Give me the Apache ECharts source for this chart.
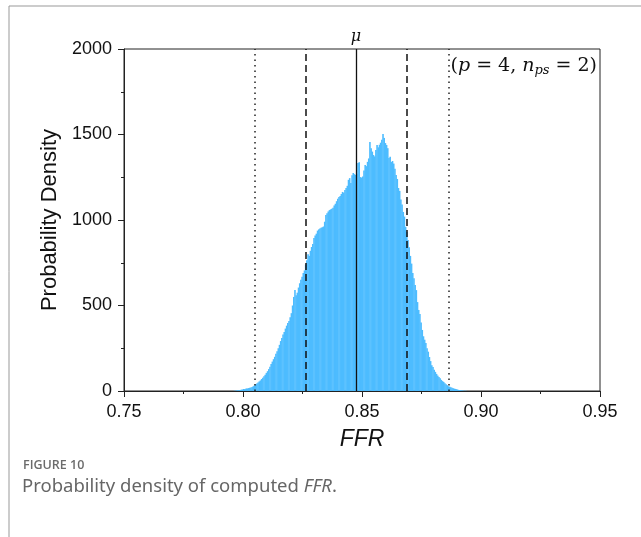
<!DOCTYPE html>
<html>
<head>
<meta charset="utf-8">
<script src="https://cdn.jsdelivr.net/npm/echarts@6/dist/echarts.min.js"></script>
<style>
  html, body { margin: 0; padding: 0; background: #fff; }
  #chart { width: 641px; height: 537px; }
</style>
</head>
<body>
<div id="chart"></div>
<script>
// histogram: bins of width 0.0005 starting at 0.796
const binStart = 0.796;
const binWidth = 0.0005;
const density = [
  1, 2, 3, 4, 5, 6, 8, 9, 11, 12,
  14, 15, 17, 19, 21, 24, 28, 33, 38, 44,
  50, 56, 62, 70, 78, 86, 95, 106, 116, 128,
  142, 158, 172, 186, 200, 218, 232, 250, 270, 292,
  310, 330, 345, 365, 382, 398, 410, 432, 455, 500,
  550, 590, 560, 575, 605, 630, 650, 668, 690, 705,
  740, 765, 800, 790, 820, 842, 860, 895, 910, 920,
  938, 945, 950, 955, 958, 962, 990, 1029, 1040, 1050,
  1058, 1062, 1066, 1072, 1085, 1095, 1110, 1125, 1135, 1140,
  1152, 1164, 1160, 1175, 1187, 1200, 1235, 1245, 1216, 1262,
  1275, 1268, 1263, 1270, 1333, 1338, 1251, 1248, 1255, 1290,
  1322, 1315, 1340, 1360, 1456, 1420, 1400, 1380, 1372, 1410,
  1439, 1425, 1440, 1452, 1470, 1503, 1480, 1450, 1439, 1420,
  1362, 1370, 1339, 1345, 1330, 1300, 1263, 1240, 1187, 1170,
  1120, 1090, 1047, 1020, 960, 930, 883, 840, 790, 745,
  690, 660, 620, 590, 520, 474, 450, 400, 357, 320,
  300, 280, 250, 230, 199, 175, 150, 140, 125, 112,
  100, 90, 82, 75, 65, 58, 53, 46, 40, 34,
  28, 25, 22, 19, 16, 14, 12, 10, 8, 6,
  5, 4, 3, 2, 2, 1
];

// vertical reference lines
const mu = 0.8475;
const innerLines = [0.8265, 0.869];
const outerLines = [0.805, 0.8865];

const xTicks = [0.75, 0.80, 0.85, 0.90, 0.95];
const yTicks = [0, 500, 1000, 1500, 2000];

const bins = density.map((d, i) => [binStart + i * binWidth, binStart + (i + 1) * binWidth, d]);

const chart = echarts.init(document.getElementById('chart'));

const dotted = { type: [1.5, 4], color: '#222', width: 1.5 };
const dashed = { type: [7, 4], color: '#111', width: 1.5 };

const option = {
  animation: false,
  grid: {
    left: 124,
    right: 41,
    top: 49,
    bottom: 146,
    show: true,
    borderColor: '#222',
    borderWidth: 1,
  },
  xAxis: {
    type: 'value',
    min: xTicks[0],
    max: xTicks[xTicks.length - 1],
    interval: 0.05,
    name: 'FFR',
    nameLocation: 'middle',
    nameGap: 37,
    nameTextStyle: { fontFamily: 'Liberation Sans', fontSize: 23, fontStyle: 'italic', color: '#111' },
    axisLine: { lineStyle: { color: '#222', width: 1 } },
    axisTick: { length: 6, lineStyle: { color: '#222' } },
    minorTick: { show: true, splitNumber: 2, length: 3, lineStyle: { color: '#222' } },
    splitLine: { show: false },
    axisLabel: {
      margin: 12,
      fontFamily: 'Liberation Sans',
      fontSize: 18,
      color: '#111',
      formatter: (v) => v.toFixed(2),
    },
  },
  yAxis: {
    type: 'value',
    min: yTicks[0],
    max: yTicks[yTicks.length - 1],
    interval: 500,
    name: 'Probability Density',
    nameLocation: 'middle',
    nameGap: 60,
    nameTextStyle: { fontFamily: 'Liberation Sans', fontSize: 22, color: '#111' },
    axisLine: { show: true, lineStyle: { color: '#222', width: 1 } },
    axisTick: { show: true, length: 6, lineStyle: { color: '#222' } },
    minorTick: { show: true, splitNumber: 2, length: 3, lineStyle: { color: '#222' } },
    splitLine: { show: false },
    axisLabel: {
      margin: 12,
      fontFamily: 'Liberation Sans',
      fontSize: 18,
      color: '#111',
      formatter: (v) => String(v),
    },
  },
  series: [
    {
      type: 'custom',
      data: bins,
      encode: { x: [0, 1], y: 2 },
      renderItem: (params, api) => {
        const p0 = api.coord([api.value(0), api.value(2)]);
        const p1 = api.coord([api.value(1), 0]);
        return {
          type: 'rect',
          shape: { x: p0[0], y: p0[1], width: p1[0] - p0[0] + 0.4, height: p1[1] - p0[1] },
          style: { fill: '#4DBCFF' },
        };
      },
      z: 2,
    },
    {
      type: 'line',
      data: [],
      z: 5,
      markLine: {
        silent: true,
        symbol: 'none',
        animation: false,
        precision: 4,
        label: { show: false },
        data: [
          { xAxis: outerLines[0], lineStyle: dotted },
          { xAxis: outerLines[1], lineStyle: dotted },
          { xAxis: innerLines[0], lineStyle: dashed },
          { xAxis: innerLines[1], lineStyle: dashed },
          {
            xAxis: mu,
            lineStyle: { type: 'solid', color: '#111', width: 1.3 },
            label: {
              show: true,
              position: 'end',
              distance: 4,
              formatter: 'μ',
              fontFamily: 'DejaVu Serif',
              fontStyle: 'italic',
              fontSize: 16,
              color: '#111',
            },
          },
        ],
      },
    },
  ],
  graphic: [
    {
      type: 'polyline',
      shape: { points: [[9, 537], [9, 6], [641, 6]] },
      style: { stroke: '#999', lineWidth: 1, fill: null },
      silent: true,
    },
    {
      type: 'text',
      right: 44,
      top: 57,
      style: {
        text: '{t|(}{i|p}{t| = 4, }{i|n}{s|ps}{t| = 2)}',
        rich: {
          t: { fontFamily: 'DejaVu Serif', fontSize: 19, fill: '#111' },
          i: { fontFamily: 'DejaVu Serif', fontSize: 19, fontStyle: 'italic', fill: '#111' },
          s: { fontFamily: 'DejaVu Serif', fontSize: 13, fontStyle: 'italic', fill: '#111', padding: [8, 0, 0, 0] },
        },
      },
    },
    {
      type: 'text',
      left: 23,
      top: 459,
      style: {
        text: 'FIGURE 10',
        fontFamily: 'Open Sans',
        fontWeight: 600,
        fontSize: 12.5,
        fill: '#6b6b6b',
      },
    },
    {
      type: 'text',
      left: 22,
      top: 477,
      style: {
        text: '{n|Probability density of computed }{i|FFR}{n|.}',
        rich: {
          n: { fontFamily: 'Noto Sans', fontSize: 18.5, fill: '#666' },
          i: { fontFamily: 'Noto Sans', fontSize: 18.5, fontStyle: 'italic', fill: '#666' },
        },
      },
    },
  ],
};

chart.setOption(option);
</script>
</body>
</html>
